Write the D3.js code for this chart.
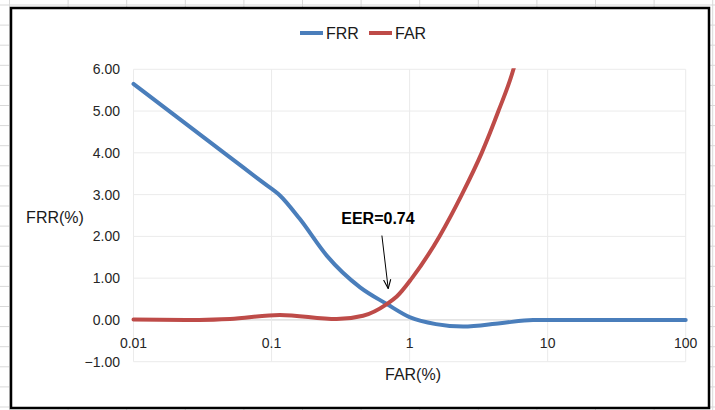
<!DOCTYPE html>
<html>
<head>
<meta charset="utf-8">
<script src="https://cdn.jsdelivr.net/npm/d3@7"></script>
<style>
  html, body { margin: 0; padding: 0; background: #fff; }
  svg { display: block; font-family: "Liberation Sans", Arial, sans-serif; }
</style>
</head>
<body>
<div id="chart"></div>
<script>
// values (FAR in %, rate in %)
var frrX = [0.01, 0.05, 0.09, 0.115, 0.16, 0.251, 0.438, 0.684, 1.01, 1.55, 2.44, 4.53, 7.85, 100];
var frrY = [5.65, 3.89, 3.25, 2.98, 2.42, 1.54, 0.78, 0.38, 0.06, -0.10, -0.16, -0.08, 0.0, 0.0];

var farX = [0.01, 0.03, 0.05, 0.115, 0.296, 0.46, 0.684, 0.807, 1.04, 1.645, 2.39, 3.33, 4.40, 5.65, 6.3];
var farY = [0.01, 0.0, 0.02, 0.12, 0.02, 0.1, 0.38, 0.56, 1.0, 2.0, 3.0, 4.0, 5.0, 6.0, 6.6];

var xTicks = [0.01, 0.1, 1, 10, 100];
var xTickLabels = ["0.01", "0.1", "1", "10", "100"];
var yTicks = [-1, 0, 1, 2, 3, 4, 5, 6];

var seriesNames = ["FRR", "FAR"];
var seriesColors = ["#4a7ebb", "#be4b48"];

var eerText = "EER=0.74";
var eerLabelPos = [0.59, 2.42];   // text centre (data coords)
var eerArrow = [[0.63, 2.02], [0.70, 0.75]]; // from, to

var width = 715, height = 410;

var svg = d3.select("#chart").append("svg")
    .attr("width", width)
    .attr("height", height);

// spreadsheet cells behind the chart
var cells = svg.append("g").attr("stroke", "#d9d9d9").attr("stroke-width", 1);
for (var cx = 9.5; cx < width; cx += 58.6) {
    cells.append("line").attr("x1", cx).attr("x2", cx).attr("y1", 0).attr("y2", height);
}
for (var cy = 5; cy < height; cy += 20.1) {
    cells.append("line").attr("x1", 0).attr("x2", width).attr("y1", cy).attr("y2", cy);
}

// chart box
svg.append("rect")
    .attr("x", 11).attr("y", 8)
    .attr("width", 698).attr("height", 400)
    .attr("fill", "#fff")
    .attr("stroke", "#000")
    .attr("stroke-width", 2.5);

var x = d3.scaleLog().domain([0.01, 100]).range([133.5, 685.7]);
var y = d3.scaleLinear().domain([-1, 6]).range([361.7, 69.3]);

// gridlines
var grid = svg.append("g");
grid.selectAll(".hg").data(yTicks).enter().append("line")
    .attr("x1", x(0.01)).attr("x2", x(100))
    .attr("y1", function(d) { return y(d); })
    .attr("y2", function(d) { return y(d); })
    .attr("stroke", function(d) { return d === 0 ? "#d0d0d0" : "#ebebeb"; })
    .attr("stroke-width", 1);
grid.selectAll(".vg").data(xTicks).enter().append("line")
    .attr("x1", function(d) { return x(d); })
    .attr("x2", function(d) { return x(d); })
    .attr("y1", y(6)).attr("y2", y(-1))
    .attr("stroke", "#ebebeb")
    .attr("stroke-width", 1);

// y tick labels
svg.append("g").selectAll("text").data(yTicks).enter().append("text")
    .attr("x", 120)
    .attr("y", function(d) { return y(d); })
    .attr("dy", "0.35em")
    .attr("text-anchor", "end")
    .style("font-size", "14px")
    .style("fill", "#262626")
    .text(d3.format(".2f"));

// x tick labels (next to the axis at y = 0)
svg.append("g").selectAll("text").data(xTicks).enter().append("text")
    .attr("x", function(d) { return x(d); })
    .attr("y", y(0) + 23)
    .attr("dy", "0.35em")
    .attr("text-anchor", "middle")
    .style("font-size", "14px")
    .style("fill", "#262626")
    .text(function(d, i) { return xTickLabels[i]; });

// axis titles
svg.append("text")
    .attr("x", 55).attr("y", 217).attr("dy", "0.35em")
    .attr("text-anchor", "middle")
    .style("font-size", "16px").style("fill", "#1a1a1a")
    .text("FRR(%)");
svg.append("text")
    .attr("x", 413).attr("y", 374).attr("dy", "0.35em")
    .attr("text-anchor", "middle")
    .style("font-size", "16px").style("fill", "#1a1a1a")
    .text("FAR(%)");

// curves
svg.append("clipPath").attr("id", "plotClip").append("rect")
    .attr("x", x(0.01) - 3).attr("y", y(6) - 1)
    .attr("width", x(100) - x(0.01) + 6).attr("height", y(-1) - y(6) + 1);

var line = d3.line()
    .x(function(d) { return x(d[0]); })
    .y(function(d) { return y(d[1]); })
    .curve(d3.curveMonotoneX);

var frrData = d3.zip(frrX, frrY);
var farData = d3.zip(farX, farY);

var curves = svg.append("g").attr("clip-path", "url(#plotClip)");
[frrData, farData].forEach(function(data, i) {
    curves.append("path")
        .datum(data)
        .attr("d", line)
        .attr("fill", "none")
        .attr("stroke", seriesColors[i])
        .attr("stroke-width", 4)
        .attr("stroke-linecap", "round");
});

// legend
var legendX = [300, 369];
var legend = svg.append("g");
seriesNames.forEach(function(name, i) {
    legend.append("line")
        .attr("x1", legendX[i]).attr("x2", legendX[i] + 23)
        .attr("y1", 33).attr("y2", 33)
        .attr("stroke", seriesColors[i]).attr("stroke-width", 4);
    legend.append("text")
        .attr("x", legendX[i] + 26).attr("y", 33).attr("dy", "0.35em")
        .style("font-size", "16px").style("fill", "#1a1a1a")
        .text(name);
});

// EER annotation
svg.append("defs").append("marker")
    .attr("id", "arrow")
    .attr("viewBox", "0 0 10 10")
    .attr("refX", 10).attr("refY", 5)
    .attr("markerWidth", 9).attr("markerHeight", 9)
    .attr("orient", "auto")
    .append("path")
    .attr("d", "M0,1 L10,5 L0,9")
    .attr("fill", "none")
    .attr("stroke", "#000")
    .attr("stroke-width", 1.2);

svg.append("line")
    .attr("x1", x(eerArrow[0][0])).attr("y1", y(eerArrow[0][1]))
    .attr("x2", x(eerArrow[1][0])).attr("y2", y(eerArrow[1][1]))
    .attr("stroke", "#000").attr("stroke-width", 1)
    .attr("marker-end", "url(#arrow)");

svg.append("text")
    .attr("x", x(eerLabelPos[0])).attr("y", y(eerLabelPos[1])).attr("dy", "0.35em")
    .attr("text-anchor", "middle")
    .style("font-size", "16px").style("font-weight", "bold").style("fill", "#000")
    .text(eerText);
</script>
</body>
</html>
